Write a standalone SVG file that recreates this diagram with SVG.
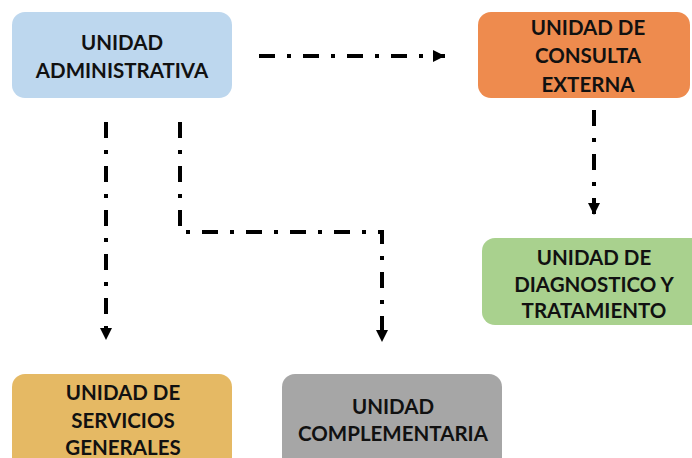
<svg xmlns="http://www.w3.org/2000/svg" width="692" height="458" viewBox="0 0 692 458">
<style>
.box{stroke:none}
.t{font-family:Lato,"Open Sans","Liberation Sans",sans-serif;font-weight:bold;font-size:20.5px;fill:#111;text-anchor:middle}
.c{fill:none;stroke:#000;stroke-width:4;stroke-dasharray:16 12 4 12}
</style>
<defs>
<marker id="ah" viewBox="0 0 10 10" refX="10" refY="5" markerWidth="3.8" markerHeight="3" markerUnits="strokeWidth" orient="auto">
<path d="M0,0 L10,5 L0,10 Z" fill="#000"/>
</marker>
</defs>
<rect width="692" height="458" fill="#fff"/>
<g id="connectors">
<path class="c" d="M259,56 H445" marker-end="url(#ah)"/>
<path class="c" d="M106,122 V340" marker-end="url(#ah)"/>
<path class="c" d="M180,122 V232 H382 V342" marker-end="url(#ah)"/>
<path class="c" d="M594,110 V215" marker-end="url(#ah)"/>
</g>
<g id="n-administrativa">
<rect class="box" x="12" y="12" width="220" height="86" rx="13" fill="#BDD7EE"/>
<text class="t" x="122" y="50">UNIDAD</text>
<text class="t" x="122" y="78">ADMINISTRATIVA</text>
</g>
<g id="n-consulta">
<rect class="box" x="478" y="12" width="212" height="86" rx="13" fill="#EE8B4E"/>
<text class="t" x="588" y="35">UNIDAD DE</text>
<text class="t" x="588" y="63">CONSULTA</text>
<text class="t" x="588" y="92">EXTERNA</text>
</g>
<g id="n-diagnostico">
<rect class="box" x="482" y="238" width="222" height="87" rx="13" fill="#A9D18E"/>
<text class="t" x="594" y="265">UNIDAD DE</text>
<text class="t" x="594" y="292">DIAGNOSTICO Y</text>
<text class="t" x="594" y="318">TRATAMIENTO</text>
</g>
<g id="n-servicios">
<rect class="box" x="12" y="374" width="220" height="100" rx="13" fill="#E5B964"/>
<text class="t" x="123" y="400">UNIDAD DE</text>
<text class="t" x="123" y="428">SERVICIOS</text>
<text class="t" x="123" y="455">GENERALES</text>
</g>
<g id="n-complementaria">
<rect class="box" x="282" y="374" width="220" height="100" rx="13" fill="#A6A6A6"/>
<text class="t" x="393" y="414">UNIDAD</text>
<text class="t" x="393" y="441">COMPLEMENTARIA</text>
</g>
</svg>
